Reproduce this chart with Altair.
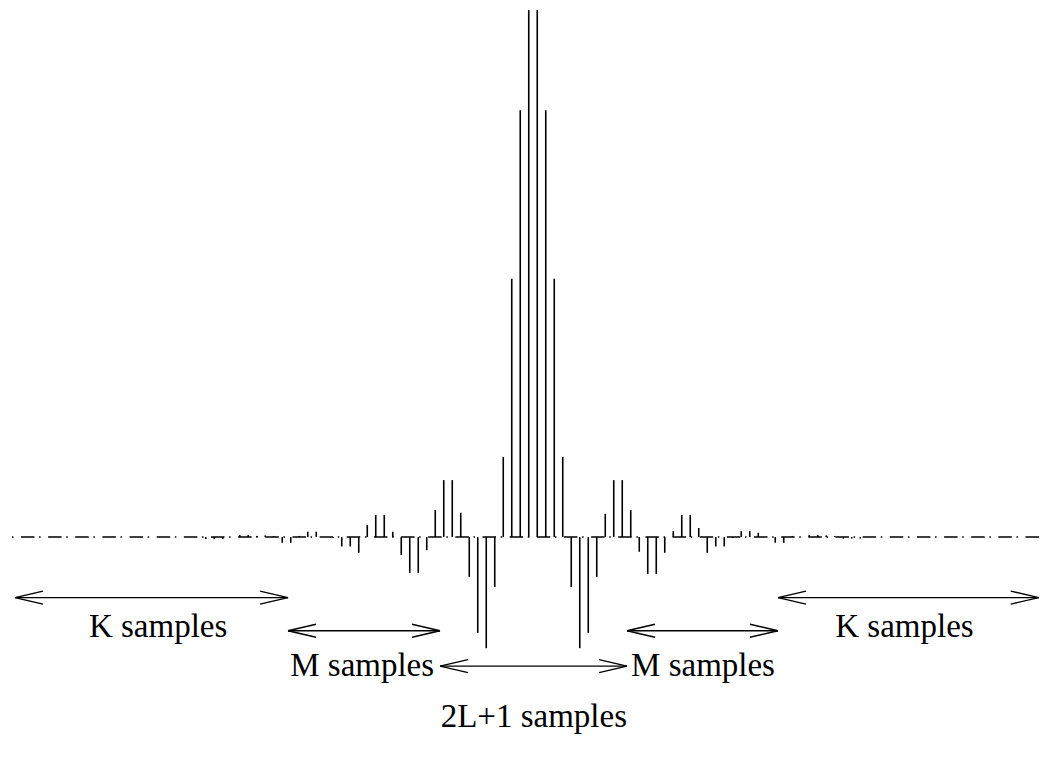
import altair as alt
import pandas as pd

# ---------------- data ----------------
# sample index (0 is the first sample right of the centre)
sample_index = list(range(-61, 60))

# amplitude of each sample, normalised so the two tallest stems are 1.0
tail_left = [0.0, 0.0, 0.0, 0.0, 0.0, 0.0, 0.0, 0.0, 0.0, 0.0, 0.0,
             0.0, 0.0, 0.0, 0.0, 0.0, 0.0, 0.0, 0.0, 0.0, 0.0]          # n=-61..-41
left_side = [0.0, -0.004, -0.004, -0.004, 0.0, 0.004, 0.004, 0.002,     # n=-40..-33
             0.003, 0.002, -0.011, -0.011, 0.002, 0.010, 0.010, 0.0,   # n=-32..-25
             -0.002, -0.018, -0.018, -0.030, 0.023, 0.042, 0.042, 0.010,  # n=-24..-17
             -0.034, -0.068, -0.068, -0.025, 0.051, 0.108, 0.108, 0.046,  # n=-16..-9
             -0.076, -0.182, -0.211, -0.095, 0.152, 0.490, 0.810, 1.000]  # n=-8..-1
right_side = [1.000, 0.810, 0.490, 0.152, -0.095, -0.211, -0.182, -0.076,  # n=0..7
              0.044, 0.108, 0.108, 0.051, -0.028, -0.070, -0.070, -0.030,  # n=8..15
              0.011, 0.042, 0.042, 0.017, -0.030, -0.018, -0.018, -0.002,  # n=16..23
              0.011, 0.011, 0.008, 0.0, -0.011, -0.011, 0.002, 0.0,        # n=24..31
              0.004, 0.004, 0.003, 0.002, -0.003, -0.003, -0.003, 0.0]     # n=32..39
tail_right = [0.0, 0.0, 0.0, 0.0, 0.0, 0.0, 0.0, 0.0, 0.0, 0.0,
              0.0, 0.0, 0.0, 0.0, 0.0, 0.0, 0.0, 0.0, 0.0, 0.0]            # n=40..59
amplitude = tail_left + left_side + right_side + tail_right

# annotation arrows (in sample-index units) and their labels
arrow_labels = ["K samples", "M samples", "2L+1 samples", "M samples", "K samples"]
arrow_start = [-61.44, -29.32, -11.44, 10.56, 28.32]
arrow_end = [-29.32, -11.44, 10.56, 28.32, 59.0]
arrow_level = [-0.115, -0.178, -0.245, -0.178, -0.115]
label_x = [-44.6, -20.6, -0.4, 19.5, 43.2]
label_level = [-0.189, -0.263, -0.361, -0.263, -0.189]

# ---------------- layout / style ----------------
W, H = 1032, 740
X_DOMAIN = [-62.265, 59.147]
Y_DOMAIN = [-0.4004, 1.0038]
px_x = W / (X_DOMAIN[1] - X_DOMAIN[0])
px_y = H / (Y_DOMAIN[1] - Y_DOMAIN[0])
HEAD_LEN_PX, HEAD_HALF_PX = 28.0, 6.5

x_scale = alt.Scale(domain=X_DOMAIN, nice=False, zero=False)
y_scale = alt.Scale(domain=Y_DOMAIN, nice=False, zero=False)

stems_df = pd.DataFrame({"n": sample_index, "a": amplitude})
stems_df["zero"] = 0.0

seg_rows = []
hl = HEAD_LEN_PX / px_x
hw = HEAD_HALF_PX / px_y
for s, e, lv in zip(arrow_start, arrow_end, arrow_level):
    seg_rows.append({"x": s, "x2": e, "y": lv, "y2": lv})
    for tip, back in ((s, s + hl), (e, e - hl)):
        seg_rows.append({"x": tip, "x2": back, "y": lv, "y2": lv + hw})
        seg_rows.append({"x": tip, "x2": back, "y": lv, "y2": lv - hw})
arrows_df = pd.DataFrame(seg_rows)

labels_df = pd.DataFrame({"x": label_x, "y": label_level, "label": arrow_labels})

baseline = alt.Chart(pd.DataFrame({"y": [0.0]})).mark_rule(
    color="black", strokeWidth=1.5,
    strokeDash=[13.5, 7.5, 1.5, 4.65], strokeDashOffset=26.15,
).encode(y=alt.Y("y:Q", scale=y_scale, axis=None))

stems = alt.Chart(stems_df).mark_rule(color="black", strokeWidth=1.6).encode(
    x=alt.X("n:Q", scale=x_scale, axis=None),
    y=alt.Y("a:Q", scale=y_scale, axis=None),
    y2=alt.Y2("zero:Q"),
)

arrows = alt.Chart(arrows_df).mark_rule(color="black", strokeWidth=1.4).encode(
    x=alt.X("x:Q", scale=x_scale, axis=None),
    x2=alt.X2("x2:Q"),
    y=alt.Y("y:Q", scale=y_scale, axis=None),
    y2=alt.Y2("y2:Q"),
)

labels = alt.Chart(labels_df).mark_text(
    font="Liberation Serif", fontSize=33, align="center", baseline="alphabetic", color="black"
).encode(
    x=alt.X("x:Q", scale=x_scale, axis=None),
    y=alt.Y("y:Q", scale=y_scale, axis=None),
    text="label:N",
)

chart = alt.layer(baseline, stems, arrows, labels).properties(
    width=W, height=H, padding=0, autosize=alt.AutoSizeParams(type="none")
).configure_view(stroke=None)

chart.save("out.html", embed_options={"renderer": "svg", "actions": False})
